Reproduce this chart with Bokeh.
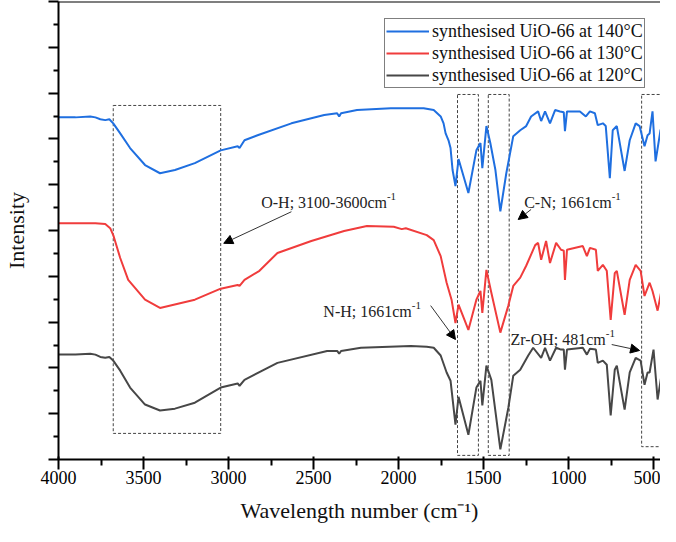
from bokeh.plotting import figure
from bokeh.models import FixedTicker, Span, Arrow, NormalHead, Range1d
from bokeh.core.properties import value
from bokeh.embed import file_html
from bokeh.resources import INLINE

# ---------------- data ----------------
wn_140 = [4000, 3900, 3813, 3783, 3754, 3725, 3701, 3678, 3637, 3579, 3491, 3403, 3315, 3198,
          3046, 2946, 2935, 2906, 2829, 2630, 2437, 2361, 2349, 2338, 2244, 2045, 1852, 1793,
          1752, 1735, 1723, 1706, 1694, 1682, 1665, 1647, 1589, 1542, 1518, 1507, 1483, 1460,
          1430, 1401, 1366, 1325, 1284, 1249, 1220, 1179, 1161, 1138, 1109, 1079, 1050, 1028,
          1021, 1009, 933, 898, 874, 845, 828, 798, 781, 757, 740, 716, 670, 640, 605, 582,
          553, 535, 523, 506, 488, 459, 412]
int_140 = [7.47, 7.47, 7.49, 7.47, 7.43, 7.41, 7.43, 7.34, 7.12, 6.80, 6.43, 6.25, 6.32, 6.47,
           6.75, 6.84, 6.80, 6.97, 7.08, 7.34, 7.52, 7.56, 7.49, 7.56, 7.63, 7.67, 7.67, 7.63,
           7.49, 7.34, 7.12, 6.97, 6.80, 6.32, 5.97, 6.56, 5.82, 6.75, 6.91, 6.36, 7.28, 6.91,
           6.32, 5.42, 6.25, 7.06, 7.19, 7.28, 7.49, 7.60, 7.39, 7.60, 7.34, 7.63, 7.60, 7.58,
           7.17, 7.60, 7.60, 7.49, 7.60, 7.56, 7.30, 7.34, 7.28, 6.14, 7.19, 7.28, 6.30, 6.97,
           7.34, 7.28, 6.84, 7.08, 7.12, 7.60, 6.51, 7.19, 7.56]

wn_130 = [4000, 3783, 3725, 3696, 3678, 3637, 3590, 3491, 3403, 3198, 3046, 2946, 2935, 2906,
          2818, 2712, 2513, 2320, 2186, 2028, 1981, 1957, 1834, 1793, 1752, 1717, 1688, 1665,
          1647, 1589, 1542, 1518, 1507, 1483, 1454, 1401, 1354, 1325, 1284, 1249, 1196, 1179,
          1161, 1132, 1109, 1073, 1044, 1028, 1021, 1009, 916, 892, 874, 839, 828, 798, 775,
          752, 728, 716, 670, 640, 605, 576, 553, 523, 506, 476, 453, 412]
int_130 = [5.16, 5.16, 5.14, 5.05, 4.90, 4.40, 3.92, 3.49, 3.31, 3.49, 3.73, 3.81, 3.79, 3.92,
           4.12, 4.51, 4.77, 4.99, 5.10, 5.08, 5.03, 5.05, 4.90, 4.79, 4.44, 3.86, 3.49, 2.98,
           3.38, 2.83, 3.49, 3.68, 3.20, 4.14, 3.64, 2.77, 3.36, 3.79, 3.97, 4.23, 4.68, 4.73,
           4.36, 4.77, 4.29, 4.73, 4.58, 4.56, 3.92, 4.58, 4.66, 4.44, 4.62, 4.58, 4.12, 4.25,
           4.12, 3.05, 4.07, 4.12, 3.16, 3.92, 4.25, 4.12, 3.57, 3.86, 3.68, 3.25, 3.70, 4.29]

wn_120 = [4000, 3900, 3813, 3783, 3754, 3725, 3701, 3678, 3637, 3579, 3491, 3403, 3315, 3198,
          3046, 2946, 2935, 2906, 2712, 2420, 2361, 2349, 2338, 2221, 1928, 1834, 1793, 1752,
          1717, 1694, 1665, 1647, 1589, 1542, 1518, 1507, 1483, 1454, 1401, 1354, 1325, 1284,
          1237, 1208, 1161, 1138, 1109, 1073, 1044, 1028, 1021, 1009, 916, 892, 874, 839, 828,
          798, 775, 752, 728, 716, 670, 640, 605, 576, 553, 535, 523, 500, 476, 453, 412]
int_120 = [2.29, 2.29, 2.31, 2.29, 2.24, 2.22, 2.24, 2.16, 1.94, 1.57, 1.20, 1.07, 1.11, 1.24,
           1.57, 1.66, 1.61, 1.74, 2.11, 2.37, 2.37, 2.31, 2.37, 2.44, 2.48, 2.46, 2.44, 2.27,
           1.90, 1.72, 0.76, 1.37, 0.54, 1.57, 1.72, 1.18, 2.05, 1.74, 0.22, 1.13, 1.83, 1.96,
           2.27, 2.44, 2.22, 2.44, 2.16, 2.44, 2.40, 2.40, 1.96, 2.40, 2.44, 2.29, 2.42, 2.40,
           2.11, 2.16, 2.07, 0.96, 1.96, 2.05, 1.09, 1.90, 2.22, 2.16, 1.63, 1.90, 1.90, 2.40,
           1.31, 1.85, 2.22]

series_labels = ["synthesised UiO-66 at 140°C", "synthesised UiO-66 at 130°C",
                 "synthesised UiO-66 at 120°C"]

x_ticks = [4000, 3500, 3000, 2500, 2000, 1500, 1000, 500]
x_minor = [3750, 3250, 2750, 2250, 1750, 1250, 750]
y_ticks = [0, 1, 2, 3, 4, 5, 6, 7, 8, 9, 10]
y_minor = [0.5, 1.5, 2.5, 3.5, 4.5, 5.5, 6.5, 7.5, 8.5, 9.5]

# dashed highlight boxes
box_left = [3678, 1653, 1472, 570]
box_right = [3046, 1530, 1349, 453]
box_top = [7.73, 7.97, 7.97, 7.97]
box_bottom = [0.57, 0.09, 0.09, 0.28]

# annotations
ann_text = ["O-H; 3100-3600cm", "C-N; 1661cm", "N-H; 1661cm", "Zr-OH; 481cm"]
ann_sup = ["-1", "-1", "-1", "-1"]
ann_x = [2068, 746, 1922, 781]
ann_y = [5.61, 5.61, 3.23, 2.62]
arr_x0 = [2630, 1220, 1811, 746]
arr_y0 = [5.41, 5.46, 3.36, 2.51]
arr_x1 = [3028, 1296, 1665, 582]
arr_y1 = [4.72, 5.24, 2.62, 2.38]

# ---------------- figure ----------------
FONT = "Liberation Serif"
p = figure(width=660, height=526, output_backend="svg", toolbar_location=None,
           x_range=Range1d(4000, 459), y_range=Range1d(0, 10),
           min_border_left=55, min_border_right=0, min_border_top=1, min_border_bottom=67)
p.outline_line_color = None
p.grid.visible = False
p.background_fill_color = "white"
p.border_fill_color = "white"

p.quad(left=box_left, right=box_right, top=box_top, bottom=box_bottom,
       fill_color=None, line_color="#444444", line_dash="3 2", line_width=1)

colors = ["#1f6fe0", "#f03c3c", "#474747"]
for wn, inten, lab, c in zip([wn_140, wn_130, wn_120], [int_140, int_130, int_120],
                             series_labels, colors):
    p.line(wn, inten, line_color=c, line_width=2, legend_label=lab)

p.text(x=ann_x, y=ann_y, text=ann_text, text_font=value(FONT), text_font_size="16px",
       text_align="right", text_baseline="alphabetic", text_color="#222222")
p.text(x=ann_x, y=ann_y, text=ann_sup, text_font=value(FONT), text_font_size="11px",
       text_align="left", text_baseline="alphabetic", text_color="#222222", y_offset=-6)

for xs, ys, xe, ye in zip(arr_x0, arr_y0, arr_x1, arr_y1):
    p.add_layout(Arrow(end=NormalHead(size=9, fill_color="black", line_color="black"),
                       x_start=xs, y_start=ys, x_end=xe, y_end=ye,
                       line_color="#333333", line_width=1))

p.add_layout(Span(location=10, dimension="width", line_color="black", line_width=2))

xa = p.xaxis[0]
xa.ticker = FixedTicker(ticks=x_ticks, minor_ticks=x_minor)
xa.axis_line_width = 2
xa.major_tick_line_width = 2
xa.minor_tick_line_width = 2
xa.major_tick_out = 10
xa.major_tick_in = 3
xa.minor_tick_out = 6
xa.minor_tick_in = 0
xa.major_label_text_font = FONT
xa.major_label_text_font_size = "18px"
xa.major_label_text_color = "black"
xa.major_label_standoff = 1
xa.axis_label = "Wavelength number (cm⁻¹)"
xa.axis_label_text_font = FONT
xa.axis_label_text_font_size = "22px"
xa.axis_label_text_font_style = "normal"
xa.axis_label_text_color = "#111111"
xa.axis_label_standoff = 11

ya = p.yaxis[0]
ya.ticker = FixedTicker(ticks=y_ticks, minor_ticks=y_minor)
ya.axis_line_width = 2
ya.major_tick_line_width = 2
ya.minor_tick_line_width = 2
ya.major_tick_out = 10
ya.major_tick_in = 0
ya.minor_tick_out = 5
ya.minor_tick_in = 0
ya.major_label_text_font_size = "1px"
ya.major_label_text_color = None
ya.major_label_standoff = 0
ya.axis_label = "Intensity"
ya.axis_label_text_font = FONT
ya.axis_label_text_font_size = "22px"
ya.axis_label_text_font_style = "normal"
ya.axis_label_text_color = "#111111"
ya.axis_label_standoff = 20

lg = p.legend[0]
lg.location = (326, 371)
lg.border_line_color = "black"
lg.border_line_width = 1
lg.padding = 1
lg.spacing = 0
lg.margin = 0
lg.label_standoff = 3
lg.glyph_width = 43
lg.glyph_height = 22
lg.label_height = 22
lg.label_text_line_height = 1.0
lg.label_text_font = FONT
lg.label_text_font_size = "18px"
lg.label_text_color = "#111111"
lg.background_fill_color = "white"
lg.background_fill_alpha = 1.0

open("out.html", "w").write(file_html(p, INLINE))
